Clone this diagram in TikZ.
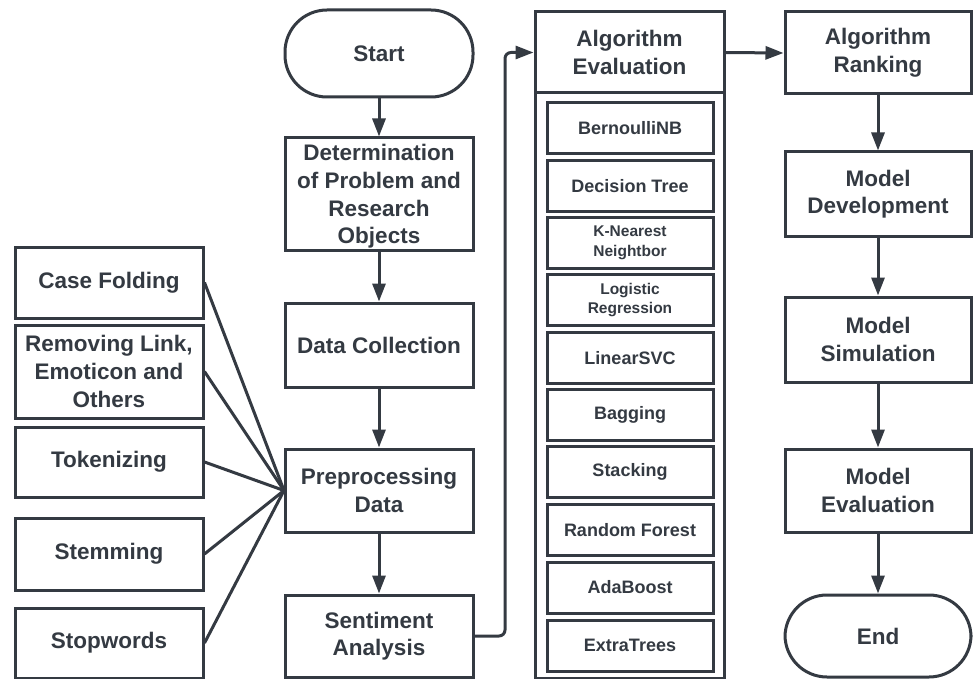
\documentclass[tikz,border=0pt]{standalone}
\usepackage{fontspec}
\setmainfont{Liberation Sans}
\usetikzlibrary{arrows.meta}
\definecolor{dk}{HTML}{343A42}
\tikzset{
  box/.style={draw=dk, line width=3pt, fill=white, text=dk, align=center, inner sep=0pt,
    font=\bfseries\fontsize{22.5}{27.6}\selectfont},
  lbox/.style={box, minimum width=188pt},
  mbox/.style={box, minimum width=188pt},
  rbox/.style={box, minimum width=186pt},
  term/.style={rounded corners=42pt},
  algo/.style={box, minimum width=166pt, minimum height=51pt, font=\bfseries\fontsize{18}{21}\selectfont},
  algos/.style={algo, font=\bfseries\fontsize{15.5}{19.5}\selectfont},
  txt/.style={text=dk, align=center, inner sep=0pt, font=\bfseries\fontsize{22.5}{27.6}\selectfont},
  conn/.style={draw=dk, line width=3pt},
  arr/.style={conn, -{Triangle[length=18pt,width=13pt]}}
}
\begin{document}
\begin{tikzpicture}[x=1pt,y=-1pt]
\useasboundingbox[fill=white] (0,0) rectangle (974,679);
% left column
\node[lbox, minimum height=71pt] (cf) at (109,282.5) {Case Folding};
\node[lbox, minimum height=93pt] (rl) at (109,371.5) {Removing Link,\\Emoticon and\\Others};
\node[lbox, minimum height=70pt] (tok) at (109,462) {Tokenizing};
\node[lbox, minimum height=72pt] (stem) at (109,554) {Stemming};
\node[lbox, minimum height=70pt] (stop) at (109,643) {Stopwords};
% middle column
\node[mbox, term, minimum height=87pt] (start) at (379,53.5) {Start};
\node[mbox, minimum height=112pt] (det) at (379,194) {};
\node[txt] (detl) at (379,196.5) {Determination\\of Problem and\\Research\\Objects};
\node[mbox, minimum height=84pt] (dc) at (379,345) {Data Collection};
\node[mbox, minimum height=83pt] (pre) at (379,490.5) {Preprocessing\\Data};
\node[mbox, minimum height=82pt] (sa) at (379,636) {Sentiment\\Analysis};
% algorithm evaluation
\node[box, minimum width=189pt, minimum height=666pt] (aeo) at (629.5,345) {};
\node[box, minimum width=189pt, minimum height=81pt] (ae) at (629.5,52.5) {Algorithm\\Evaluation};
\node[algo] (a1) at (630,128.5) {BernoulliNB};
\node[algo] (a2) at (630,186) {Decision Tree};
\node[algos] (a3) at (630,243) {K-Nearest\\Neightbor};
\node[algos] (a4) at (630,300) {Logistic\\Regression};
\node[algo] (a5) at (630,358) {LinearSVC};
\node[algo] (a6) at (630,415) {Bagging};
\node[algo] (a7) at (630,472) {Stacking};
\node[algo] (a8) at (630,530) {Random Forest};
\node[algo] (a9) at (630,587.5) {AdaBoost};
\node[algo] (a10) at (630,645.5) {ExtraTrees};
% right column
\node[rbox, minimum height=82pt] (ar) at (878,53) {Algorithm\\Ranking};
\node[rbox, minimum height=84pt] (md) at (878,194) {Model\\Development};
\node[rbox, minimum height=85pt] (ms) at (878,339.5) {Model\\Simulation};
\node[rbox, minimum height=83pt] (me) at (878,490.5) {Model\\Evaluation};
\node[rbox, term, minimum height=82pt] (end) at (878,636) {End};
% connectors
\draw[arr] (start) -- (det);
\draw[arr] (det) -- (dc);
\draw[arr] (dc) -- (pre);
\draw[arr] (pre) -- (sa);
\draw[arr, rounded corners=6pt] (sa.east) -- (505,636) -- (505,52.5) -- (ae.west);
\draw[arr] (ae.east) -- (ar.west);
\draw[arr] (ar) -- (md);
\draw[arr] (md) -- (ms);
\draw[arr] (ms) -- (me);
\draw[arr] (me) -- (end);
\coordinate (fan) at (284,490.5);
\foreach \n in {cf,rl,tok,stem,stop}{
  \draw[conn, line join=round] (\n.east) -- (fan);
}
\end{tikzpicture}
\end{document}
